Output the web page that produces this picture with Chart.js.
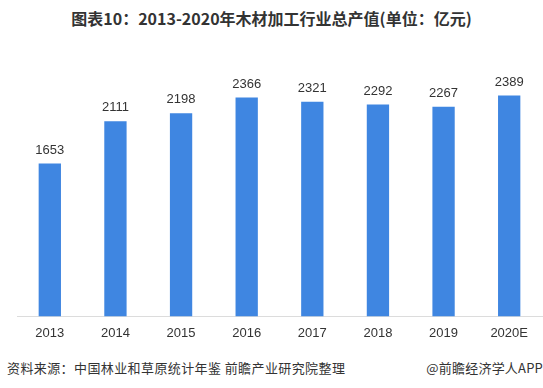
<!DOCTYPE html>
<html>
<head>
<meta charset="utf-8">
<script src="https://cdn.jsdelivr.net/npm/chart.js@4/dist/chart.umd.min.js"></script>
<style>
    html, body { margin: 0; padding: 0; background: #fff; }
    #wrap { position: relative; width: 543px; height: 388px; overflow: hidden; }
    #title {
        position: absolute; left: 0; top: 6px; width: 543px; text-align: center;
        font: bold 16px "Noto Sans CJK SC", sans-serif; color: #333;
    }
    #chartBox { position: absolute; left: 0; top: 0; width: 543px; height: 350px; }
    .foot {
        position: absolute; top: 358px;
        font: 13px "Noto Sans CJK SC", sans-serif; color: #333;
    }
    #src { left: 7px; letter-spacing: 0.4px; }
    #app { right: 0; letter-spacing: 0.2px; }
</style>
</head>
<body>
<div id="wrap">
    <div id="title">图表10：2013-2020年木材加工行业总产值(单位：亿元)</div>
    <div id="chartBox"><canvas id="barChart" width="543" height="350"></canvas></div>
    <div class="foot" id="src">资料来源：中国林业和草原统计年鉴 前瞻产业研究院整理</div>
    <div class="foot" id="app">@前瞻经济学人APP</div>
</div>
<script>
const years = ['2013', '2014', '2015', '2016', '2017', '2018', '2019', '2020E'];
const outputValues = [1653, 2111, 2198, 2366, 2321, 2292, 2267, 2389];

// Value labels above each bar
const valueLabels = {
    id: 'valueLabels',
    afterDatasetsDraw(chart) {
        const ctx = chart.ctx;
        const meta = chart.getDatasetMeta(0);
        ctx.save();
        ctx.font = '13px "Liberation Sans", Arial, sans-serif';
        ctx.fillStyle = '#333';
        ctx.textAlign = 'center';
        ctx.textBaseline = 'bottom';
        meta.data.forEach((bar, i) => {
            ctx.fillText(outputValues[i], bar.x, bar.y - 7);
        });
        ctx.restore();
    }
};

new Chart(document.getElementById('barChart').getContext('2d'), {
    type: 'bar',
    data: {
        labels: years,
        datasets: [{
            data: outputValues,
            backgroundColor: '#3f86e1',
            barPercentage: 0.34,
            categoryPercentage: 1
        }]
    },
    options: {
        responsive: false,
        animation: false,
        layout: { padding: { left: 17, right: 1, top: 39, bottom: 0 } },
        plugins: {
            legend: { display: false },
            tooltip: { enabled: false }
        },
        scales: {
            x: {
                grid: { display: false, drawTicks: false },
                border: { display: true, color: '#dcdcdc', width: 1 },
                ticks: {
                    color: '#333',
                    padding: 9,
                    font: { family: '"Liberation Sans", Arial, sans-serif', size: 13 }
                }
            },
            y: {
                display: false,
                min: 0,
                max: 3000
            }
        }
    },
    plugins: [valueLabels]
});
</script>
</body>
</html>
